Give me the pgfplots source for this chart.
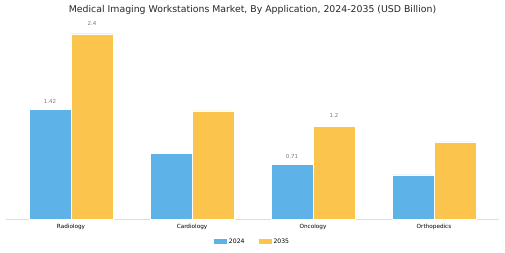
\documentclass[border=0pt]{standalone}
\usepackage{pgfplots}
\pgfplotsset{compat=1.18}
\usepackage{fontspec}
\setmainfont{DejaVu Sans}
\definecolor{cblue}{RGB}{93,179,232}
\definecolor{cyellow}{RGB}{250,196,77}
\definecolor{lblgray}{RGB}{120,120,120}
\definecolor{axgray}{RGB}{221,221,221}
\begin{document}
\begin{tikzpicture}
\path[use as bounding box] (0,0) rectangle (505pt,253pt);
\node[font=\fontsize{9.35}{11}\selectfont, text=black!85] at (252.5pt,243pt) {Medical Imaging Workstations Market, By Application, 2024-2035 (USD Billion)};
\begin{axis}[
  at={(71pt,34pt)}, anchor=origin,
  scale only axis, width=493pt, height=193pt,
  xmin=-0.537, xmax=3.537, ymin=0, ymax=2.5,
  axis x line*=bottom, axis y line=none,
  x axis line style={draw=axgray, line width=0.8pt, -},
  xtick=data, xticklabels={Radiology,Cardiology,Oncology,Orthopedics},
  major tick length=0pt,
  xticklabel style={font=\fontsize{5.7}{7}\selectfont, text=black, yshift=-2pt},
  ybar, bar width=42pt,
  clip=false,
  /pgf/number format/assume math mode=true,
  legend columns=2,
  legend style={at={(axis description cs:0.5,-0.119)}, anchor=center, draw=none, fill=none,
    font=\fontsize{6.1}{7}\selectfont, /tikz/every even column/.append style={column sep=12pt}},
  legend image code/.code={\fill[#1, draw=none] (0pt,-2.5pt) rectangle (13pt,2.5pt);},
]
\addplot[fill=cblue, draw=white, line width=0.4pt, bar shift=-21pt] coordinates {(0,1.42) (1,0.85) (2,0.71) (3,0.57)};
\addlegendentry{2024}
\addplot[fill=cyellow, draw=white, line width=0.4pt, bar shift=21pt] coordinates {(0,2.40) (1,1.40) (2,1.20) (3,1.00)};
\addlegendentry{2035}
\addplot[draw=none, fill=none, bar shift=-21pt, forget plot, nodes near coords,
  every node near coord/.append style={font=\fontsize{5.5}{6}\selectfont, text=lblgray, yshift=2pt}]
  coordinates {(0,1.42) (2,0.71)};
\addplot[draw=none, fill=none, bar shift=21pt, forget plot, nodes near coords,
  every node near coord/.append style={font=\fontsize{5.5}{6}\selectfont, text=lblgray, yshift=5pt}]
  coordinates {(0,2.4) (2,1.2)};
\end{axis}
\end{tikzpicture}
\end{document}
